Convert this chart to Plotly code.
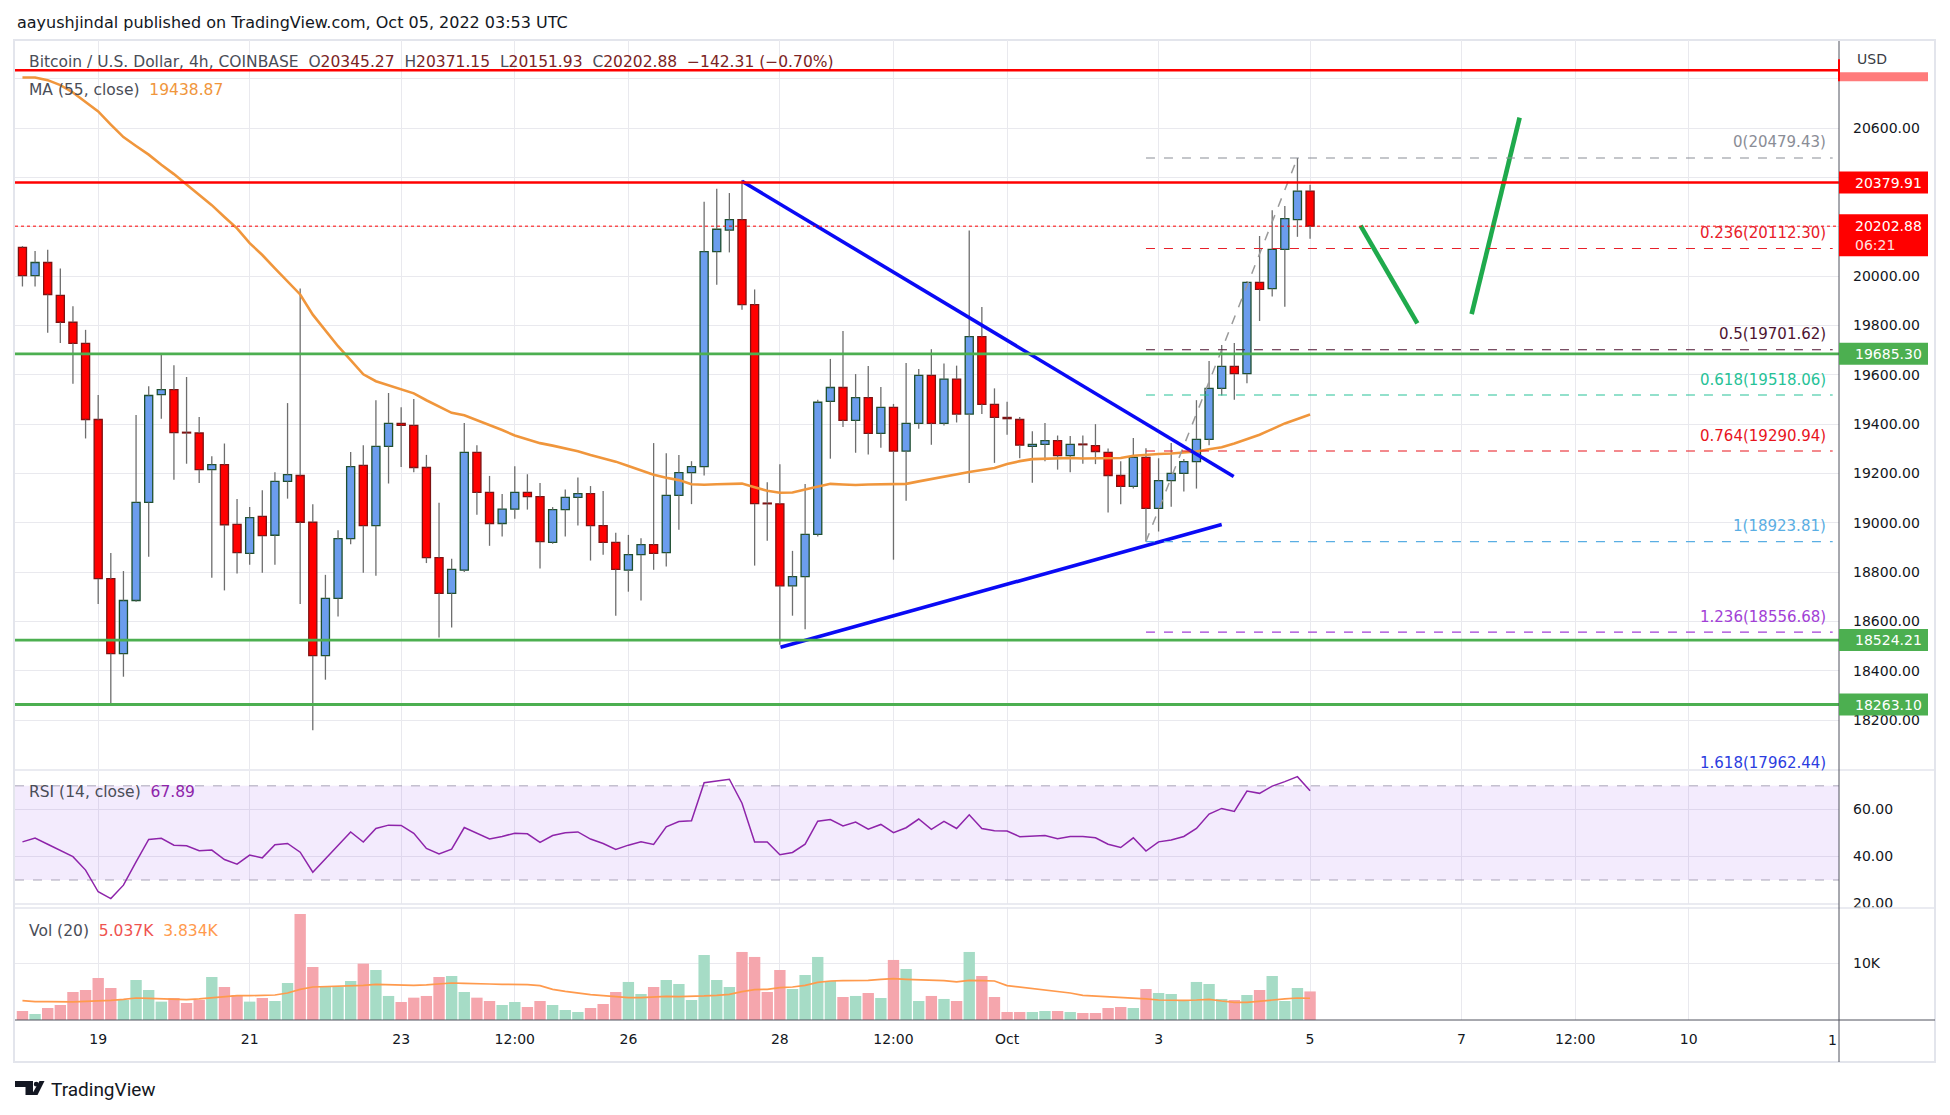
import plotly.graph_objects as go

# ---------------- data (4h candles, Sep 18 00:00 -> Oct 5 00:00) ----------------
opens = [20117.0, 20002.6, 20055.6, 19922.4, 19813.2, 19727.8, 19418.8, 18773.5, 18469.7, 18684.8,
         19082.5, 19519.5, 19540.0, 19365.9, 19364.2, 19215.6, 19236.1, 18993.7, 18876.0, 19026.2,
         18949.4, 19167.9, 19191.8, 19002.3, 18461.1, 18693.3, 18935.7, 19232.7, 18988.6, 19309.6,
         19403.4, 19394.9, 19224.2, 18858.9, 18713.8, 18807.7, 19285.7, 19123.5, 18997.2, 19055.2,
         19123.5, 19106.4, 18920.4, 19053.5, 19103.0, 19118.4, 18988.6, 18920.4, 18807.7, 18870.8,
         18911.8, 18879.4, 19111.5, 19203.7, 19227.6, 20099.9, 20187.0, 20229.7, 19884.8, 19079.1,
         19077.0, 18744.5, 18782.1, 18952.8, 19492.2, 19548.6, 19415.4, 19507.6, 19362.5, 19468.3,
         19290.8, 19403.4, 19598.0, 19403.4, 19582.7, 19441.0, 19755.1, 19480.3, 19427.3, 19418.8,
         19309.6, 19318.1, 19333.4, 19272.0, 19318.1, 19313.0, 19285.7, 19191.8, 19147.4, 19265.2,
         19058.6, 19171.3, 19200.3, 19248.1, 19338.6, 19545.1, 19633.9, 19604.9, 19975.3, 19949.7,
         20108.5, 20229.7, 20345.27]
highs = [20122.1, 20101.7, 20106.8, 20031.7, 19878.0, 19782.4, 19517.8, 18877.7, 18804.3, 19437.6,
         19553.7, 19681.7, 19639.0, 19591.2, 19429.0, 19270.3, 19321.5, 19096.2, 19063.6, 19131.9,
         19205.4, 19485.4, 19949.7, 19075.7, 18788.9, 18969.8, 19287.4, 19314.7, 19497.3, 19526.3,
         19468.3, 19502.5, 19275.4, 19080.8, 18853.8, 19405.1, 19314.7, 19190.1, 19116.6, 19229.3,
         19196.9, 19161.0, 19063.6, 19135.4, 19183.3, 19149.0, 19128.6, 18959.6, 18951.0, 18937.4,
         19323.2, 19282.3, 19275.4, 19249.8, 20301.4, 20354.3, 20337.2, 20390.2, 19946.3, 19164.4,
         19237.9, 18886.2, 19157.6, 19499.0, 19664.6, 19777.3, 19603.1, 19635.6, 19550.3, 19482.0,
         19647.5, 19623.7, 19703.9, 19645.8, 19637.3, 20185.3, 19874.6, 19545.1, 19490.5, 19429.0,
         19371.0, 19405.1, 19354.0, 19352.3, 19354.0, 19400.0, 19301.0, 19249.8, 19343.7, 19302.7,
         19261.7, 19323.2, 19258.3, 19497.3, 19656.1, 19721.0, 19729.5, 19980.0, 20163.1, 20267.2,
         20284.3, 20479.43, 20371.15]
lows = [19958.3, 19958.3, 19770.5, 19729.5, 19563.9, 19342.0, 18671.1, 18266.5, 18375.8, 18679.6,
        18862.3, 19422.2, 19174.7, 19239.6, 19161.0, 18776.9, 18725.8, 18794.0, 18829.9, 18797.4,
        18829.9, 19097.9, 18671.1, 18159.0, 18363.8, 18619.9, 18913.5, 18797.4, 18785.5, 19159.3,
        19226.0, 19205.4, 18836.7, 18534.6, 18575.5, 18800.0, 19033.0, 18906.7, 18944.2, 19016.0,
        19053.5, 18814.5, 18915.0, 18944.2, 18988.6, 18846.9, 18870.8, 18623.3, 18720.6, 18684.8,
        18809.4, 18823.0, 18971.5, 19075.7, 19191.8, 19965.1, 20096.5, 19864.4, 18826.4, 18927.2,
        18505.0, 18623.3, 18568.7, 18944.2, 19260.0, 19388.1, 19284.0, 19277.1, 19304.4, 18850.3,
        19089.3, 19381.2, 19316.4, 19394.9, 19406.8, 19161.0, 19441.0, 19243.0, 19357.4, 19261.7,
        19162.7, 19249.8, 19215.6, 19205.4, 19239.6, 19237.9, 19041.5, 19075.7, 19138.8, 18923.81,
        18964.7, 19065.4, 19126.9, 19138.8, 19314.7, 19516.1, 19499.0, 19565.6, 19818.3, 19917.3,
        19876.3, 20159.7, 20151.93]
closes = [20002.6, 20055.6, 19925.8, 19813.2, 19727.8, 19418.8, 18773.5, 18469.7, 18684.8, 19082.5,
          19516.1, 19540.0, 19365.9, 19364.2, 19215.6, 19236.1, 18992.0, 18879.4, 19021.1, 18947.7,
          19167.9, 19195.2, 19002.3, 18461.1, 18693.3, 18935.7, 19227.6, 18988.6, 19309.6, 19403.4,
          19394.9, 19224.2, 18858.9, 18713.8, 18811.1, 19285.7, 19123.5, 18997.2, 19055.2, 19123.5,
          19106.4, 18923.8, 19053.5, 19103.0, 19118.4, 18988.6, 18920.4, 18811.1, 18870.8, 18911.8,
          18876.0, 19111.5, 19203.7, 19227.6, 20099.9, 20190.4, 20229.7, 19884.8, 19077.4, 19077.0,
          18744.5, 18782.1, 18952.8, 19488.8, 19548.6, 19415.4, 19507.6, 19362.5, 19468.3, 19290.8,
          19403.4, 19598.0, 19403.4, 19582.7, 19441.0, 19755.1, 19480.3, 19427.3, 19422.2, 19314.7,
          19318.1, 19333.4, 19272.0, 19318.1, 19316.4, 19289.1, 19191.8, 19147.4, 19265.2, 19058.6,
          19171.3, 19200.3, 19248.1, 19338.6, 19545.1, 19633.9, 19604.9, 19975.3, 19946.3, 20108.5,
          20233.1, 20345.27, 20202.88]
ma55 = [20806, 20806, 20795, 20775, 20745, 20705, 20668, 20615, 20564, 20528,
        20493, 20452, 20414, 20372, 20330, 20288, 20240, 20194, 20134, 20086,
        20032, 19980, 19926, 19844, 19782, 19716, 19660, 19602, 19574, 19557,
        19543, 19525, 19497, 19472, 19446, 19436, 19417, 19398, 19376, 19354,
        19338, 19323, 19313, 19303, 19290, 19275, 19262, 19248, 19230, 19212,
        19195, 19183, 19173, 19156, 19154, 19156, 19159, 19159, 19144, 19130,
        19122, 19123, 19135, 19147, 19158, 19155, 19153, 19155, 19156, 19156,
        19158, 19168, 19178, 19187, 19195, 19206, 19214, 19222, 19238, 19250,
        19258, 19260, 19261, 19263, 19261, 19261, 19260, 19263, 19272, 19277,
        19279, 19281, 19284, 19289, 19298, 19306, 19322, 19339, 19357, 19380,
        19403, 19421, 19438.87]
rsi14 = [46.2, 47.8, 45.2, 42.4, 39.9, 34.2, 25.0, 22.1, 27.8, 37.7,
         47.2, 47.7, 44.8, 44.5, 42.4, 42.7, 38.7, 36.7, 40.6, 39.4,
         45.0, 45.5, 41.8, 33.3, 39.0, 44.7, 50.4, 46.1, 51.9, 53.3,
         53.2, 49.8, 43.4, 41.1, 43.1, 52.3, 49.8, 47.4, 48.5, 49.9,
         49.6, 46.0, 48.9, 50.1, 50.4, 47.4, 45.5, 43.0, 44.8, 46.2,
         45.1, 52.6, 54.8, 55.2, 71.3, 72.2, 72.8, 62.6, 46.1, 46.1,
         40.7, 41.7, 45.2, 55.0, 55.7, 53.0, 54.6, 51.6, 53.6, 50.1,
         52.2, 55.9, 51.5, 54.9, 51.9, 57.7, 51.9, 50.9, 50.8, 48.4,
         48.5, 48.9, 47.5, 48.5, 48.5, 47.9, 45.2, 43.8, 47.9, 42.3,
         46.2, 47.0, 48.5, 51.9, 58.0, 60.4, 59.1, 67.8, 66.8, 69.9,
         71.8, 73.9, 67.89]
volume_k = [1.59, 1.06, 2.12, 2.65, 4.94, 5.29, 7.41, 5.65, 3.53, 7.06,
            5.29, 3.24, 3.88, 3.00, 3.53, 7.59, 5.82, 4.41, 3.24, 3.88,
            3.35, 6.53, 18.7, 9.35, 5.82, 5.82, 6.88, 9.94, 8.82, 4.24,
            3.18, 3.94, 4.24, 7.59, 7.76, 4.94, 3.94, 3.35, 2.65, 3.18,
            2.29, 3.35, 2.65, 1.76, 1.41, 2.12, 2.82, 4.94, 6.71, 4.59,
            5.82, 7.06, 6.35, 3.53, 11.47, 7.06, 5.82, 12.0, 11.12, 4.94,
            8.82, 5.47, 7.94, 11.12, 6.88, 4.06, 4.24, 4.76, 3.88, 10.59,
            9.00, 3.35, 4.24, 3.71, 3.35, 12.0, 7.76, 4.06, 1.41, 1.41,
            1.41, 1.59, 1.59, 1.41, 1.24, 1.24, 2.12, 2.29, 2.12, 5.47,
            4.76, 4.59, 3.53, 6.71, 6.35, 3.71, 3.53, 4.41, 5.29, 7.76,
            3.35, 5.65, 5.037]
volume_ma20_k = [3.41, 3.24, 3.24, 3.18, 3.18, 3.29, 3.35, 3.47, 3.65, 3.88,
                 3.82, 3.71, 3.65, 3.59, 3.71, 3.94, 4.12, 4.29, 4.29, 4.35,
                 4.41, 4.76, 5.41, 5.82, 5.88, 5.88, 5.94, 6.12, 6.29, 6.24,
                 6.12, 6.12, 6.18, 6.41, 6.53, 6.47, 6.35, 6.35, 6.29, 6.29,
                 6.24, 6.06, 5.41, 5.06, 4.71, 4.47, 4.29, 4.06, 3.94, 3.94,
                 4.06, 4.18, 4.12, 4.12, 4.24, 4.35, 4.53, 5.00, 5.35, 5.41,
                 5.71, 5.82, 6.12, 6.65, 6.88, 6.94, 6.94, 7.00, 7.18, 7.29,
                 7.18, 7.12, 7.06, 6.94, 6.71, 7.00, 6.94, 6.88, 6.06, 5.82,
                 5.53, 5.35, 5.12, 4.76, 4.35, 4.24, 4.06, 4.00, 3.94, 3.71,
                 3.53, 3.47, 3.47, 3.53, 3.65, 3.35, 3.12, 3.12, 3.35, 3.59,
                 3.71, 3.88, 3.834]

date_tick_idx = [6, 18, 30, 39, 48, 60, 69, 78, 90, 102, 114, 123, 132]
date_tick_text = ["19", "21", "23", "12:00", "26", "28", "12:00", "Oct", "3", "5", "7", "12:00", "10"]
price_tick_vals = [18000, 18200, 18400, 18600, 18800, 19000, 19200, 19400, 19600, 19800,
                   20000, 20200, 20400, 20600, 20800]
price_tick_text = ["", "18200.00", "18400.00", "18600.00", "18800.00", "19000.00", "19200.00",
                   "19400.00", "19600.00", "19800.00", "20000.00", "", "", "20600.00", ""]
rsi_tick_vals = [20, 40, 60]
rsi_tick_text = ["20.00", "40.00", "60.00"]
vol_tick_vals = [10]
vol_tick_text = ["10K"]

red_levels = [20835.0, 20379.91]
green_levels = [19685.30, 18524.21, 18263.10]
boxed_levels = [20379.91, 19685.30, 18524.21, 18263.10]
boxed_colors = ["#ff0000", "#4caf50", "#4caf50", "#4caf50"]

fib_ratio_labels = ["0", "0.236", "0.5", "0.618", "0.764", "1", "1.236", "1.618"]
fib_prices = [20479.43, 20112.30, 19701.62, 19518.06, 19290.94, 18923.81, 18556.68, 17962.44]
fib_colors = ["#8a8d96", "#e8202a", "#4d1531", "#26c297", "#e8141d", "#5aaee3", "#a23fd6", "#2b3de0"]
fib_start_idx = 89
fib_end_idx = 143.4

upper_trend_idx = [57.0, 95.95]
upper_trend_price = [20385.0, 19188.0]
lower_trend_idx = [60.05, 95.0]
lower_trend_price = [18495.0, 18993.0]
fib_trend_idx = [89, 101]
fib_trend_price = [18923.81, 20479.43]
arrow_down_idx = [106.0, 110.5]
arrow_down_price = [20205.0, 19809.0]
arrow_up_idx = [114.8, 118.6]
arrow_up_price = [19846.0, 20643.0]
rsi_band = [30, 70]

# ---------------- geometry ----------------
W, H = 1950, 1115
ML, MR, MT, MB = 15, 111, 40, 95
PW, PH = W - ML - MR, H - MT - MB
X_MIN, X_MAX = -0.59, 143.9
P_MIN, P_MAX = 18001.6, 20957.8
R_MIN, R_MAX = 19.8, 76.3
V_MIN, V_MAX = 0.0, 19.93
PRICE_TOP, PRICE_BOT = 40, 769
RSI_TOP, RSI_BOT = 771, 904
VOL_TOP, VOL_BOT = 907, 1020


def dom(top, bot):
    return [(H - MB - bot) / PH, (H - MB - top) / PH]


def fx(px):
    return (px - ML) / PW


def fy(py):
    return (H - MB - py) / PH


def price_py(p):
    return PRICE_TOP + (P_MAX - p) / (P_MAX - P_MIN) * (PRICE_BOT - PRICE_TOP)


GRID = "#e9e9ee"
AXF = dict(family="DejaVu Sans", size=14, color="#131722")
TXT = "DejaVu Sans"

idx = list(range(len(closes)))
fig = go.Figure()

# RSI band (as a filled trace so gridlines show through tinted)
fig.add_trace(go.Scatter(x=[X_MIN, X_MAX, X_MAX, X_MIN, X_MIN],
                         y=[rsi_band[0], rsi_band[0], rsi_band[1], rsi_band[1], rsi_band[0]],
                         mode="lines", fill="toself", fillcolor="rgba(149,76,233,0.11)",
                         line=dict(width=0), hoverinfo="skip", xaxis="x2", yaxis="y2"))
for lv in rsi_band:
    fig.add_trace(go.Scatter(x=[X_MIN, X_MAX], y=[lv, lv], mode="lines",
                             line=dict(color="#a9a4b8", width=1, dash="dash"),
                             hoverinfo="skip", xaxis="x2", yaxis="y2"))

# wicks
wx, wy = [], []
for i in idx:
    top, bot = max(opens[i], closes[i]), min(opens[i], closes[i])
    wx += [i, i, None, i, i, None]
    wy += [top, highs[i], None, lows[i], bot, None]
fig.add_trace(go.Scatter(x=wx, y=wy, mode="lines", line=dict(color="#6e6e6e", width=1.3),
                         hoverinfo="skip", xaxis="x", yaxis="y"))

MIN_BODY = 3.0
up = [i for i in idx if closes[i] >= opens[i]]
dn = [i for i in idx if closes[i] < opens[i]]
fig.add_trace(go.Bar(x=up, base=[opens[i] for i in up],
                     y=[max(closes[i] - opens[i], MIN_BODY) for i in up], width=0.64,
                     marker=dict(color="#6b9ded", line=dict(color="#1f4f30", width=1.3)),
                     hoverinfo="skip", xaxis="x", yaxis="y"))
fig.add_trace(go.Bar(x=dn, base=[closes[i] for i in dn],
                     y=[max(opens[i] - closes[i], MIN_BODY) for i in dn], width=0.64,
                     marker=dict(color="#ff0000", line=dict(color="#7d1212", width=1.3)),
                     hoverinfo="skip", xaxis="x", yaxis="y"))

fig.add_trace(go.Scatter(x=idx, y=ma55, mode="lines", line=dict(color="#f0963c", width=2.6),
                         hoverinfo="skip", xaxis="x", yaxis="y"))

# fib diagonal
fig.add_trace(go.Scatter(x=fib_trend_idx, y=fib_trend_price, mode="lines",
                         line=dict(color="#9a9a9a", width=1.5, dash="dash"),
                         hoverinfo="skip", xaxis="x", yaxis="y"))
# trend lines
for xs, ys, col, wd in [(upper_trend_idx, upper_trend_price, "#0a0af5", 3.6),
                        (lower_trend_idx, lower_trend_price, "#0a0af5", 3.6),
                        (arrow_down_idx, arrow_down_price, "#1faa4c", 4.6),
                        (arrow_up_idx, arrow_up_price, "#1faa4c", 4.6)]:
    fig.add_trace(go.Scatter(x=xs, y=ys, mode="lines", line=dict(color=col, width=wd),
                             hoverinfo="skip", xaxis="x", yaxis="y"))

# RSI
fig.add_trace(go.Scatter(x=idx, y=rsi14, mode="lines", line=dict(color="#8e24aa", width=1.5),
                         hoverinfo="skip", xaxis="x2", yaxis="y2"))
# Volume
vcol = ["#a6dcc6" if closes[i] >= opens[i] else "#f5a6ad" for i in idx]
fig.add_trace(go.Bar(x=idx, y=volume_k, width=0.9, marker=dict(color=vcol, line=dict(width=0)),
                     hoverinfo="skip", xaxis="x3", yaxis="y3"))
fig.add_trace(go.Scatter(x=idx, y=volume_ma20_k, mode="lines", line=dict(color="#ff9a4d", width=1.7),
                         hoverinfo="skip", xaxis="x3", yaxis="y3"))

shapes = []
annotations = []

# horizontal level lines
for lv in red_levels:
    shapes.append(dict(type="line", xref="paper", yref="y", x0=0, x1=1, y0=lv, y1=lv,
                       line=dict(color="#ff0000", width=2.6)))
for lv in green_levels:
    shapes.append(dict(type="line", xref="paper", yref="y", x0=0, x1=1, y0=lv, y1=lv,
                       line=dict(color="#4caf50", width=2.8)))
# current price dotted
shapes.append(dict(type="line", xref="paper", yref="y", x0=0, x1=1, y0=closes[-1], y1=closes[-1],
                   line=dict(color="#ff0000", width=1, dash="dot")))
# fib levels
for p, c in zip(fib_prices, fib_colors):
    if P_MIN < p < P_MAX:
        shapes.append(dict(type="line", xref="x", yref="y", x0=fib_start_idx, x1=fib_end_idx, y0=p, y1=p,
                           line=dict(color=c, width=1.1, dash="dash")))

# frame, axis lines, separators
shapes.append(dict(type="rect", xref="paper", yref="paper", x0=fx(14), x1=fx(1935), y0=fy(1062), y1=fy(40),
                   line=dict(color="#e3e5ec", width=2), layer="below"))
shapes.append(dict(type="line", xref="paper", yref="paper", x0=fx(15), x1=fx(1935), y0=fy(770), y1=fy(770),
                   line=dict(color="#e3e5ec", width=1.6)))
shapes.append(dict(type="line", xref="paper", yref="paper", x0=fx(15), x1=fx(1839), y0=fy(904), y1=fy(904),
                   line=dict(color="#e3e5ec", width=1.6)))
shapes.append(dict(type="line", xref="paper", yref="paper", x0=fx(15), x1=fx(1935), y0=fy(908), y1=fy(908),
                   line=dict(color="#e3e5ec", width=1.6)))
shapes.append(dict(type="line", xref="paper", yref="paper", x0=fx(1839), x1=fx(1839), y0=fy(1062), y1=fy(41),
                   line=dict(color="#50535e", width=1)))
shapes.append(dict(type="line", xref="paper", yref="paper", x0=fx(15), x1=fx(1935), y0=fy(1020), y1=fy(1020),
                   line=dict(color="#50535e", width=1)))

# price-axis boxes
for lv, col in zip(boxed_levels, boxed_colors):
    yc = price_py(lv)
    shapes.append(dict(type="rect", xref="paper", yref="paper", x0=fx(1839), x1=fx(1928),
                       y0=fy(yc + 11), y1=fy(yc - 11), fillcolor=col, line=dict(width=0)))
    annotations.append(dict(xref="paper", yref="paper", x=fx(1853), y=fy(yc), xanchor="left", yanchor="middle",
                            text=f"{lv:.2f}", showarrow=False, font=dict(family="DejaVu Sans", size=14, color="white")))
yc = price_py(closes[-1])
shapes.append(dict(type="rect", xref="paper", yref="paper", x0=fx(1839), x1=fx(1928),
                   y0=fy(yc + 30), y1=fy(yc - 12), fillcolor="#ff0000", line=dict(width=0)))
annotations.append(dict(xref="paper", yref="paper", x=fx(1853), y=fy(yc), xanchor="left", yanchor="middle",
                        text=f"{closes[-1]:.2f}", showarrow=False,
                        font=dict(family="DejaVu Sans", size=14, color="white")))
annotations.append(dict(xref="paper", yref="paper", x=fx(1853), y=fy(yc + 19), xanchor="left", yanchor="middle",
                        text="06:21", showarrow=False, font=dict(family="DejaVu Sans", size=14, color="#ffe0e0")))
# top hidden red box + USD header
yc = price_py(red_levels[0])
shapes.append(dict(type="rect", xref="paper", yref="paper", x0=fx(1839.5), x1=fx(1928),
                   y0=fy(yc + 11), y1=fy(yc + 2), fillcolor="#ff7b7b", line=dict(width=0)))
shapes.append(dict(type="line", xref="paper", yref="paper", x0=fx(1839), x1=fx(1839),
                   y0=fy(yc + 11), y1=fy(yc - 11), line=dict(color="#ff0000", width=2)))
annotations.append(dict(xref="paper", yref="paper", x=fx(1855), y=fy(59), xanchor="left", yanchor="middle",
                        text="USD", showarrow=False, font=dict(family=TXT, size=14, color="#3a3d45")))

# fib labels
for lab, p, c in zip(fib_ratio_labels, fib_prices, fib_colors):
    annotations.append(dict(xref="paper", yref="paper", x=fx(1828), y=fy(price_py(p) - 15.5),
                            xanchor="right", yanchor="middle", text=f"{lab}({p:.2f})", showarrow=False,
                            font=dict(family="DejaVu Sans", size=15, color=c)))

# texts
NB = "\u00a0"
vc = "#7b2424"
gc = "#4a4d57"
legend1 = (f"Bitcoin / U.S. Dollar, 4h, COINBASE{NB}{NB}"
           f"O<span style='color:{vc}'>{opens[-1]:.2f}</span>{NB}{NB}"
           f"H<span style='color:{vc}'>{highs[-1]:.2f}</span>{NB}{NB}"
           f"L<span style='color:{vc}'>{lows[-1]:.2f}</span>{NB}{NB}"
           f"C<span style='color:{vc}'>{closes[-1]:.2f}</span>{NB}{NB}"
           f"<span style='color:{vc}'>\u2212142.31 (\u22120.70%)</span>")
annotations += [
    dict(xref="paper", yref="paper", x=fx(15), y=fy(22), xanchor="left", yanchor="middle", showarrow=False,
         text="aayushjindal published on TradingView.com, Oct 05, 2022 03:53 UTC",
         font=dict(family=TXT, size=16, color="#131722")),
    dict(xref="paper", yref="paper", x=fx(27), y=fy(62), xanchor="left", yanchor="middle", showarrow=False,
         text=legend1, font=dict(family=TXT, size=15.5, color=gc)),
    dict(xref="paper", yref="paper", x=fx(27), y=fy(89.5), xanchor="left", yanchor="middle", showarrow=False,
         text=f"MA (55, close){NB}{NB}<span style='color:#f0963c'>{ma55[-1]:.2f}</span>",
         font=dict(family=TXT, size=15.5, color=gc)),
    dict(xref="paper", yref="paper", x=fx(27), y=fy(792.5), xanchor="left", yanchor="middle", showarrow=False,
         text=f"RSI (14, close){NB}{NB}<span style='color:#8e24aa'>{rsi14[-1]:.2f}</span>",
         font=dict(family=TXT, size=15.5, color=gc)),
    dict(xref="paper", yref="paper", x=fx(27), y=fy(931), xanchor="left", yanchor="middle", showarrow=False,
         text=(f"Vol (20){NB}{NB}<span style='color:#ef5350'>{volume_k[-1]:.3f}K</span>{NB}{NB}"
               f"<span style='color:#ff9a4d'>{volume_ma20_k[-1]:.3f}K</span>"),
         font=dict(family=TXT, size=15.5, color=gc)),
    dict(xref="paper", yref="paper", x=fx(1839), y=fy(1040), xanchor="right", yanchor="middle", showarrow=False,
         text="1", font=AXF),
    dict(xref="paper", yref="paper", x=fx(49), y=fy(1089), xanchor="left", yanchor="middle", showarrow=False,
         text="TradingView", font=dict(family="Roboto", size=19, color="#131722")),
]

# TradingView logo mark


def pth(pts):
    return "M " + " L ".join(f"{fx(a):.5f},{fy(b):.5f}" for a, b in pts) + " Z"


shapes.append(dict(type="path", xref="paper", yref="paper",
                   path=pth([(15, 1081), (33, 1081), (33, 1095), (25.5, 1095), (25.5, 1087), (15, 1087)]),
                   fillcolor="#131722", line=dict(width=0)))
shapes.append(dict(type="circle", xref="paper", yref="paper", x0=fx(33.8), x1=fx(38.6), y0=fy(1086.6),
                   y1=fy(1081.8), fillcolor="#131722", line=dict(width=0)))
shapes.append(dict(type="path", xref="paper", yref="paper",
                   path=pth([(39.5, 1081), (44.5, 1081), (37.5, 1095), (31.5, 1095)]),
                   fillcolor="#131722", line=dict(width=0)))

xcommon = dict(range=[X_MIN, X_MAX], tickmode="array", tickvals=date_tick_idx, showgrid=True, gridcolor=GRID,
               gridwidth=1, zeroline=False, showline=False, ticks="", fixedrange=True)
fig.update_layout(
    width=W, height=H, margin=dict(l=ML, r=MR, t=MT, b=MB), paper_bgcolor="white", plot_bgcolor="white",
    showlegend=False, barmode="overlay", hovermode=False,
    xaxis=dict(**xcommon, anchor="y", showticklabels=False),
    xaxis2=dict(**xcommon, anchor="y2", showticklabels=False),
    xaxis3=dict(**xcommon, anchor="y3", ticktext=date_tick_text, showticklabels=True, tickfont=AXF,
                ticklabelstandoff=9),
    yaxis=dict(domain=dom(PRICE_TOP, PRICE_BOT), range=[P_MIN, P_MAX], side="right", anchor="x",
               tickmode="array", tickvals=price_tick_vals, ticktext=price_tick_text, showgrid=True,
               gridcolor=GRID, zeroline=False, ticks="", tickfont=AXF, ticklabelstandoff=13, fixedrange=True),
    yaxis2=dict(domain=dom(RSI_TOP, RSI_BOT), range=[R_MIN, R_MAX], side="right", anchor="x2",
                tickmode="array", tickvals=rsi_tick_vals, ticktext=rsi_tick_text, showgrid=True,
                gridcolor=GRID, zeroline=False, ticks="", tickfont=AXF, ticklabelstandoff=13, fixedrange=True),
    yaxis3=dict(domain=dom(VOL_TOP, VOL_BOT), range=[V_MIN, V_MAX], side="right", anchor="x3",
                tickmode="array", tickvals=vol_tick_vals, ticktext=vol_tick_text, showgrid=True,
                gridcolor=GRID, zeroline=False, ticks="", tickfont=AXF, ticklabelstandoff=13, fixedrange=True),
    shapes=shapes, annotations=annotations,
)

fig.write_html("out.html", config={"displayModeBar": False, "staticPlot": True})
